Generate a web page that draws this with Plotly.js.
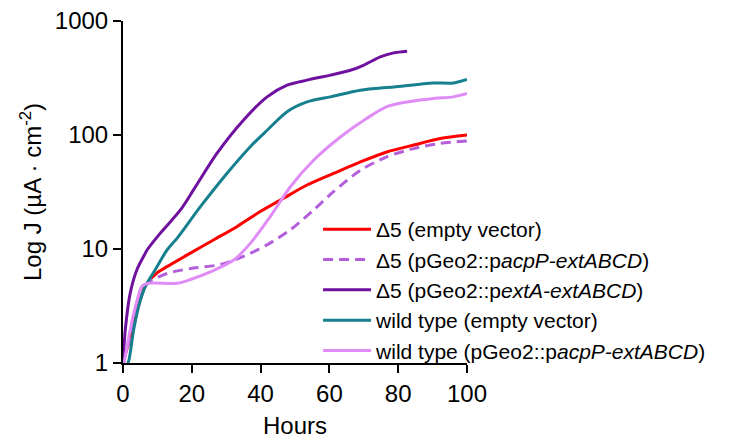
<!DOCTYPE html>
<html>
<head>
<meta charset="utf-8">
<script src="https://cdn.plot.ly/plotly-3.0.1.min.js"></script>
<style>html,body{margin:0;padding:0;background:#fff;}#chart{width:729px;height:440px;}</style>
</head>
<body>
<div id="chart"></div>
<script>
// Hours and current density (µA·cm^-2)
const redX = [0, 1.2, 2.6, 4.1, 6.0, 7.0, 10.0, 12.8, 19.6, 26.3, 33.1, 39.9, 46.7, 53.5, 61.2, 69.0, 76.7, 84.5, 92.2, 100];
const redY = [1, 1.35, 1.83, 2.9, 4.4, 5.0, 6.2, 7.0, 9.2, 12.0, 15.7, 21.3, 27.9, 36.4, 46, 58, 71, 81.6, 93, 100];

const dashX = [0, 1.2, 2.6, 4.1, 6.0, 7.0, 12.8, 20.5, 28.3, 35.0, 41.9, 48.6, 55.4, 61.2, 69.0, 76.7, 84.5, 92.2, 100];
const dashY = [1, 1.35, 1.83, 2.9, 4.4, 5.0, 6.1, 6.8, 7.3, 8.6, 10.9, 14.7, 22, 31.8, 49, 64.4, 76, 84.4, 88.5];

const purpX = [0, 0.67, 2.1, 4.07, 6.5, 7.0, 10.8, 16.7, 20.5, 27.3, 35.0, 41.9, 47.7, 53.5, 60.3, 66.1, 69.9, 74.8, 78.7, 82.6];
const purpY = [1, 1.96, 4.1, 6.6, 9.2, 9.8, 13.7, 22, 33, 69, 135, 216, 274, 303, 335, 370, 409, 484, 525, 543];

const tealX = [1.2, 1.6, 3.1, 4.5, 6.5, 9.4, 12.8, 15.7, 22.5, 30.2, 37.0, 41.9, 47.7, 53.5, 60.3, 69.0, 78.7, 90.3, 96.1, 100];
const tealY = [1, 1.03, 1.96, 3.1, 4.7, 6.6, 9.8, 12.4, 23.5, 46, 79, 110, 160, 195, 216, 247, 264, 286, 286, 307];

const lightX = [0.3, 2.1, 3.6, 5.5, 7.4, 15.7, 19.6, 25.4, 32.2, 37.0, 42.8, 48.6, 55.4, 63.2, 70.9, 76.7, 82.6, 90.3, 96.1, 100];
const lightY = [1, 1.96, 3.1, 4.7, 5.0, 5.0, 5.4, 6.3, 8.0, 11.2, 19.2, 35, 60, 96, 140, 177, 195, 209, 216, 231];

const names = [
  "Δ5 (empty vector)",
  "Δ5 (pGeo2::p<i>acpP-extABCD</i>)",
  "Δ5 (pGeo2::p<i>extA-extABCD</i>)",
  "wild type (empty vector)",
  "wild type (pGeo2::p<i>acpP-extABCD</i>)"
];
const colors = ["#ff0000", "#b35fdb", "#6f119e", "#17808f", "#df8cf7"];

const xs = [redX, dashX, purpX, tealX, lightX];
const ys = [redY, dashY, purpY, tealY, lightY];
const dashes = ["solid", "10px,6px", "solid", "solid", "solid"];

const traces = xs.map((x, i) => ({
  x: x, y: ys[i], name: names[i], type: "scatter", mode: "lines",
  line: {color: colors[i], width: 3, dash: dashes[i], shape: "spline", smoothing: 0.8}
}));

const fam = "Arial, 'Liberation Sans', sans-serif";

const layout = {
  width: 729, height: 440,
  margin: {l: 123, r: 262, t: 21, b: 77},
  paper_bgcolor: "#fff", plot_bgcolor: "#fff",
  font: {family: fam, color: "#000", size: 24},
  showlegend: true,
  legend: {x: 0.567, y: 0.45, xanchor: "left", yanchor: "top", bgcolor: "rgba(0,0,0,0)",
           itemwidth: 48, font: {family: fam, size: 21, color: "#000"}},
  xaxis: {
    range: [0, 100], tickvals: [0, 20, 40, 60, 80, 100], showgrid: false, zeroline: false,
    showline: true, linecolor: "#000", linewidth: 2, ticks: "outside", ticklen: 8, tickwidth: 2, tickcolor: "#000",
    tickfont: {size: 24}, title: {text: "Hours", font: {size: 24}, standoff: 11}
  },
  yaxis: {
    type: "log", range: [0, 3], tickvals: [1, 10, 100, 1000], ticktext: ["1", "10", "100", "1000"],
    showgrid: false, zeroline: false,
    showline: true, linecolor: "#000", linewidth: 2, ticks: "outside", ticklen: 8, tickwidth: 2, tickcolor: "#000",
    tickfont: {size: 24}, title: {text: "Log J (µA · cm<sup>-2</sup>)", font: {size: 24}, standoff: 6}
  }
};

Plotly.newPlot("chart", traces, layout, {staticPlot: true, displayModeBar: false});
</script>
</body>
</html>
